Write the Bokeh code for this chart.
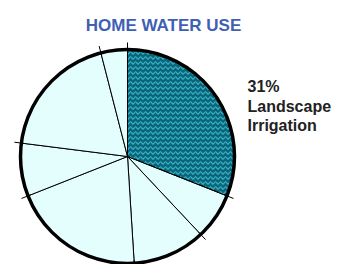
import numpy as np
from bokeh.plotting import figure
from bokeh.models import Range1d, ColumnDataSource
from bokeh.core.properties import value
from bokeh.embed import file_html
from bokeh.resources import INLINE

# ---- data (percent of home water use, clockwise from top) ----
categories = ["Landscape Irrigation", "Use 2", "Use 3", "Use 4", "Use 5", "Use 6", "Use 7"]
shares = [31, 7, 11, 20, 8, 19, 4]
title_text = "HOME WATER USE"
label_lines = ["31%", "Landscape", "Irrigation"]

W, H = 332, 264
p = figure(width=W, height=H, output_backend="svg", toolbar_location=None,
           x_range=Range1d(0, W), y_range=Range1d(0, H), min_border=0)
p.axis.visible = False
p.grid.visible = False
p.outline_line_color = None
p.background_fill_color = "white"
p.border_fill_color = "white"

cx, cy, r = 127, 108, 107

vals = np.array(shares, dtype=float)
frac = vals / vals.sum()
cum = np.concatenate([[0], np.cumsum(frac)])
starts = np.pi / 2 - cum[:-1] * 2 * np.pi
ends = np.pi / 2 - cum[1:] * 2 * np.pi

fills = ["#0b6576"] + ["#e4fdfd"] * (len(shares) - 1)
src = ColumnDataSource(dict(cat=categories, start=starts, end=ends, fill=fills))
p.wedge(x=cx, y=cy, radius=r, start_angle="start", end_angle="end", direction="clock",
        fill_color="fill", line_color="black", line_width=1, source=src)

# hatch on the irrigation slice
hsrc = ColumnDataSource(dict(start=starts[:1], end=ends[:1]))
p.wedge(x=cx, y=cy, radius=r, start_angle="start", end_angle="end", direction="clock",
        fill_alpha=0, line_color="black", line_width=1,
        hatch_pattern="horizontal_wave", hatch_color="#34b2cc", hatch_scale=5,
        hatch_weight=1.2, source=hsrc)

# little tick marks where the slice lines meet the rim
ang = np.pi / 2 - cum[:-1] * 2 * np.pi
p.segment(x0=cx + (r - 3) * np.cos(ang), y0=cy + (r - 3) * np.sin(ang),
          x1=cx + (r + 7) * np.cos(ang), y1=cy + (r + 7) * np.sin(ang),
          line_color="black", line_width=1)

# thick rim
p.circle(x=[cx], y=[cy], radius=r, fill_color=None, line_color="black", line_width=3.5)

p.text(x=[163], y=[239], text=[title_text], text_font=value("Liberation Sans"),
       text_font_style="bold", text_font_size="17px", text_color="#3f5fb5",
       text_align="center", text_baseline="alphabetic")

p.text(x=[247] * 3, y=[178, 158, 139], text=label_lines, text_font=value("Liberation Sans"),
       text_font_style="bold", text_font_size="16px", text_color="#222222",
       text_align="left", text_baseline="alphabetic")

open("out.html", "w").write(file_html(p, INLINE))
